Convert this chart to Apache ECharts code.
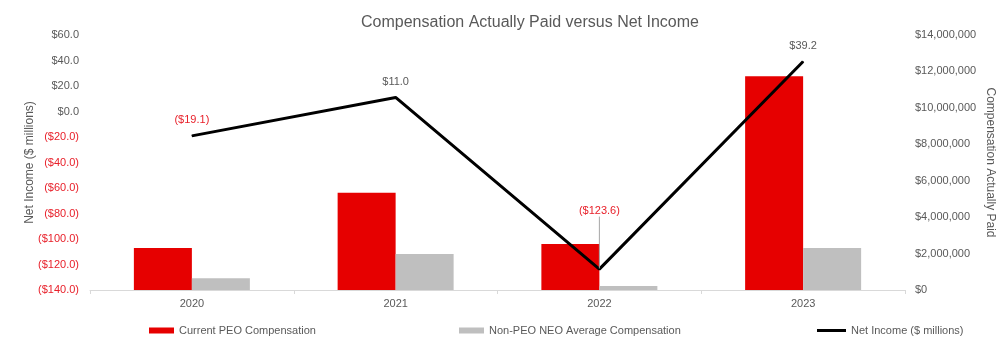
<!DOCTYPE html>
<html>
<head>
<meta charset="utf-8">
<script src="https://cdn.jsdelivr.net/npm/echarts@6/dist/echarts.min.js"></script>
<style>html,body{margin:0;padding:0;background:#fff}#c{width:1007px;height:350px}</style>
</head>
<body>
<div id="c"></div>
<script>
const categories = ['2020', '2021', '2022', '2023'];
const peoComp = [2300000, 5340000, 2530000, 11730000];
const neoComp = [644000, 1980000, 220000, 2310000];
const netIncome = [-19.1, 11.0, -123.6, 39.2];

const RED = '#E60000';
const LBLRED = '#E8202A';
const GREY = '#595959';
const FONT = 'Liberation Sans, Arial, sans-serif';

function fmtNI(v) {
  return v < 0 ? '($' + (-v).toFixed(1) + ')' : '$' + v.toFixed(1);
}

const netData = netIncome.map(function (v, i) {
  return i === 2
    ? { value: v, labelLine: { show: true, lineStyle: { color: '#A6A6A6', width: 1 } } }
    : { value: v };
});

const chart = echarts.init(document.getElementById('c'));
chart.setOption({
  animation: false,
  textStyle: { fontFamily: FONT },
  title: {
    text: 'Compensation Actually Paid versus Net Income',
    left: 525, top: 10, textAlign: 'center',
    textStyle: { fontFamily: FONT, fontSize: 16, fontWeight: 'normal', color: GREY }
  },
  legend: [
    { left: 144, top: 320, itemWidth: 25, itemHeight: 6, data: [{ name: 'Current PEO Compensation', icon: 'rect' }],
      textStyle: { fontSize: 11, color: GREY } },
    { left: 454, top: 320, itemWidth: 25, itemHeight: 6, data: [{ name: 'Non-PEO NEO Average Compensation', icon: 'rect' }],
      textStyle: { fontSize: 11, color: GREY } },
    { left: 812, top: 320, itemWidth: 29, itemHeight: 3, data: [{ name: 'Net Income ($ millions)', icon: 'rect' }],
      textStyle: { fontSize: 11, color: GREY } }
  ],
  grid: { left: 90, right: 102, top: 35, bottom: 60, outerBoundsMode: 'none' },
  xAxis: {
    type: 'category', data: categories,
    axisLine: { onZero: false, lineStyle: { color: '#D9D9D9' } },
    axisTick: { show: true, length: 4, lineStyle: { color: '#D9D9D9' } },
    axisLabel: { color: GREY, fontSize: 11, margin: 8 }
  },
  yAxis: [
    {
      type: 'value', min: -140, max: 60, interval: 20, position: 'left',
      name: 'Net Income ($ millions)', nameLocation: 'middle', nameGap: 54, nameMoveOverlap: false,
      nameTextStyle: { color: GREY, fontSize: 12 },
      splitLine: { show: false }, axisLine: { show: false }, axisTick: { show: false },
      axisLabel: { fontSize: 11, margin: 11, formatter: fmtNI,
        color: function (v) { return Number(v) < 0 ? LBLRED : GREY; } }
    },
    {
      type: 'value', min: 0, max: 14000000, interval: 2000000, position: 'right',
      name: 'Compensation Actually Paid', nameLocation: 'middle', nameGap: 79, nameRotate: -90, nameMoveOverlap: false,
      nameTextStyle: { color: GREY, fontSize: 12 },
      splitLine: { show: false }, axisLine: { show: false }, axisTick: { show: false },
      axisLabel: { fontSize: 11, margin: 10, color: GREY,
        formatter: function (v) { return '$' + Number(v).toLocaleString('en-US'); } }
    }
  ],
  series: [
    { name: 'Current PEO Compensation', type: 'bar', yAxisIndex: 1, data: peoComp,
      barWidth: 58, barGap: '0%', itemStyle: { color: RED } },
    { name: 'Non-PEO NEO Average Compensation', type: 'bar', yAxisIndex: 1, data: neoComp,
      barWidth: 58, barGap: '0%', itemStyle: { color: '#BFBFBF' } },
    { name: 'Net Income ($ millions)', type: 'line', yAxisIndex: 0, data: netData, z: 5,
      symbol: 'circle', symbolSize: 1, itemStyle: { color: '#000' },
      lineStyle: { color: '#000', width: 3 },
      label: { show: true, position: 'top', distance: 10, fontSize: 11,
        formatter: function (p) { return p.value < 0 ? '{n|' + fmtNI(p.value) + '}' : '{p|' + fmtNI(p.value) + '}'; },
        rich: { n: { color: LBLRED, fontSize: 11 }, p: { color: GREY, fontSize: 11 } } },
      labelLayout: function (params) { if (params.dataIndex === 2) return { dy: -42 }; return {}; },
      labelLine: { show: false }
    }
  ]
});
</script>
</body>
</html>
